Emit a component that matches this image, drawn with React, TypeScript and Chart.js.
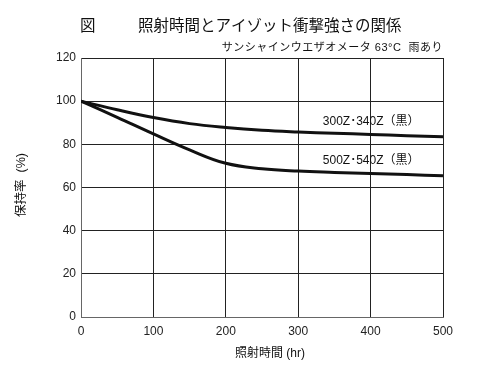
import React, { useEffect, useRef } from "react";
import { Chart, registerables } from "chart.js";

Chart.register(...registerables);

// Data
const hours = [0, 50, 100, 150, 200, 250, 300, 350, 400, 450, 500];
const series300Z = [100, 96, 92.4, 89.6, 87.8, 86.5, 85.7, 85.1, 84.6, 84.0, 83.5];
const series500Z = [100, 92.5, 84.8, 77.4, 71.2, 68.7, 67.6, 67.0, 66.5, 66.0, 65.4];
const seriesLabels = ["300Z･340Z（黒）", "500Z･540Z（黒）"];
const figMark = "図";
const titleText = "照射時間とアイゾット衝撃強さの関係";
const subtitleText = "サンシャインウエザオメータ 63°C  雨あり";
const xTitle = "照射時間 (hr)";
const yTitle = "保持率  (%)";

const FONT = '"Liberation Sans", "Noto Sans CJK JP", sans-serif';

export default function App() {
  const ref = useRef<HTMLCanvasElement>(null);

  useEffect(() => {
    if (!ref.current) return;

    const textPlugin = {
      id: "texts",
      beforeDraw(chart: any) {
        const ctx = chart.ctx;
        ctx.save();
        ctx.fillStyle = "#ffffff";
        ctx.fillRect(0, 0, chart.width, chart.height);
        ctx.restore();
      },
      afterDraw(chart: any) {
        const ctx = chart.ctx;
        const xs = chart.scales.x;
        const ys = chart.scales.y;
        const area = chart.chartArea;
        ctx.save();
        ctx.fillStyle = "#111";
        ctx.textBaseline = "alphabetic";
        // Titles
        ctx.font = `15.5px ${FONT}`;
        ctx.textAlign = "left";
        ctx.fillText(figMark, 80, 31);
        ctx.fillText(titleText, 138, 31);
        ctx.font = `11px ${FONT}`;
        ctx.textAlign = "right";
        (ctx as any).letterSpacing = "0.5px";
        ctx.fillText(subtitleText, area.right, 51);
        (ctx as any).letterSpacing = "0px";
        // Series labels
        ctx.font = `12px ${FONT}`;
        ctx.textAlign = "left";
        ctx.textBaseline = "middle";
        ctx.fillText(seriesLabels[0], xs.getPixelForValue(334), ys.getPixelForValue(90.5));
        ctx.fillText(seriesLabels[1], xs.getPixelForValue(334), ys.getPixelForValue(72.3));
        // Axis titles
        ctx.textAlign = "center";
        ctx.fillText(xTitle, 270, 354);
        ctx.font = `12.5px ${FONT}`;
        ctx.translate(22, 185);
        ctx.rotate(-Math.PI / 2);
        ctx.fillText(yTitle, 0, 0);
        ctx.restore();
      },
    };

    const chart = new Chart(ref.current, {
      type: "line",
      data: {
        datasets: [
          {
            label: seriesLabels[0],
            data: hours.map((h, i) => ({ x: h, y: series300Z[i] })),
            borderColor: "#111",
            borderWidth: 3,
            pointRadius: 0,
            tension: 0.4,
            fill: false,
          },
          {
            label: seriesLabels[1],
            data: hours.map((h, i) => ({ x: h, y: series500Z[i] })),
            borderColor: "#111",
            borderWidth: 3,
            pointRadius: 0,
            tension: 0.4,
            fill: false,
          },
        ],
      },
      options: {
        responsive: false,
        animation: false,
        layout: { padding: { left: 0, right: 57, top: 58, bottom: 0 } },
        plugins: {
          legend: { display: false },
          tooltip: { enabled: false },
          title: { display: false },
        },
        scales: {
          x: {
            type: "linear",
            min: 0,
            max: 500,
            ticks: {
              stepSize: 100,
              color: "#222",
              font: { family: FONT, size: 12 },
              padding: 7,
              maxRotation: 0,
            },
            grid: { color: "#222", lineWidth: 1, drawTicks: false },
            border: { color: "#666", width: 1 },
            afterFit(s: any) {
              s.height = 54;
            },
          },
          y: {
            min: 0,
            max: 120,
            ticks: {
              stepSize: 20,
              color: "#222",
              font: { family: FONT, size: 12 },
              padding: 5,
            },
            grid: { color: "#222", lineWidth: 1, drawTicks: false },
            border: { color: "#666", width: 1 },
            afterFit(s: any) {
              s.width = 81;
            },
          },
        },
      },
      plugins: [textPlugin],
    } as any);

    return () => chart.destroy();
  }, []);

  return (
    <div style={{ position: "absolute", left: 0, top: 0, width: 500, height: 371, background: "#fff" }}>
      <canvas ref={ref} width={500} height={371} style={{ width: 500, height: 371, display: "block" }} />
    </div>
  );
}
